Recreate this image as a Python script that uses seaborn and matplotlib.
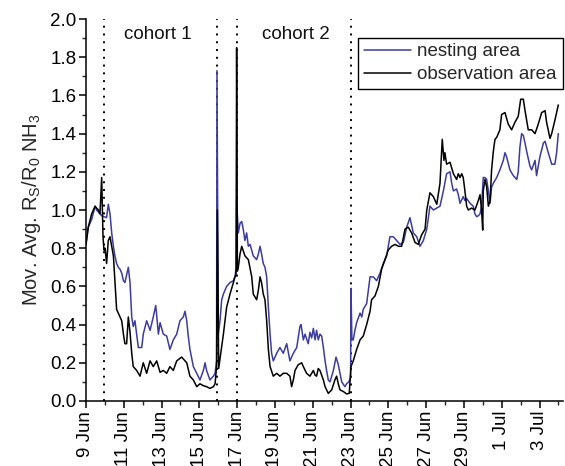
import matplotlib
matplotlib.use("Agg")
import numpy as np
import pandas as pd
import matplotlib.pyplot as plt
import matplotlib.dates as mdates
from matplotlib.ticker import MultipleLocator, FormatStrFormatter
import seaborn as sns

# time axis: days elapsed since 9 Jun 00:00
start_date = "2015-06-09"

nesting_days = [
    0.00, 0.12, 0.30, 0.48, 0.56, 0.74, 0.83, 0.95, 1.09, 1.18, 1.27, 1.36, 1.45, 1.53,
    1.62, 1.71, 1.80, 1.89, 1.98, 2.06, 2.15, 2.24, 2.33, 2.42, 2.50, 2.59, 2.68, 2.77,
    2.95, 3.03, 3.21, 3.39, 3.56, 3.69, 3.74, 3.83, 3.92, 4.09, 4.27, 4.44, 4.62, 4.80,
    4.97, 5.15, 5.24, 5.33, 5.41, 5.50, 5.68, 5.86, 6.03, 6.21, 6.30, 6.38, 6.56, 6.74,
    6.83, 6.91, 6.93, 7.00, 7.09, 7.18, 7.27, 7.44, 7.62, 7.80, 7.88, 7.95, 7.97, 8.06,
    8.15, 8.24, 8.32, 8.41, 8.50, 8.59, 8.68, 8.85, 9.03, 9.12, 9.21, 9.29, 9.38, 9.47,
    9.56, 9.65, 9.74, 9.82, 9.91, 10.09, 10.26, 10.44, 10.62, 10.79, 10.97, 11.15, 11.32,
    11.38, 11.50, 11.59, 11.76, 11.85, 11.94, 12.03, 12.12, 12.20, 12.29, 12.38, 12.47,
    12.56, 12.65, 12.73, 12.82, 12.91, 13.00, 13.09, 13.23, 13.35, 13.44, 13.53, 13.70,
    13.79, 13.90, 14.00, 14.02, 14.07, 14.14, 14.23, 14.32, 14.50, 14.59, 14.67, 14.85,
    15.03, 15.20, 15.38, 15.56, 15.73, 15.91, 16.08, 16.26, 16.44, 16.61, 16.79, 16.97,
    17.14, 17.32, 17.50, 17.67, 17.85, 18.03, 18.20, 18.38, 18.56, 18.73, 18.91, 19.08,
    19.26, 19.35, 19.44, 19.61, 19.70, 19.79, 19.96, 20.05, 20.14, 20.32, 20.49, 20.58,
    20.67, 20.76, 20.85, 20.93, 21.02, 21.11, 21.20, 21.29, 21.38, 21.46, 21.55, 21.73,
    21.90, 22.08, 22.17, 22.25, 22.43, 22.61, 22.79, 22.87, 22.96, 23.05, 23.14, 23.23,
    23.31, 23.49, 23.58, 23.76, 23.84, 24.02, 24.20, 24.29, 24.46, 24.64, 24.81, 24.90,
    24.99,
]
nesting_values = [
    0.82, 0.91, 0.95, 1.02, 1.00, 0.98, 0.97, 0.965, 0.96, 1.03, 0.98, 0.88, 0.81, 0.76,
    0.72, 0.70, 0.69, 0.67, 0.63, 0.62, 0.66, 0.70, 0.62, 0.44, 0.39, 0.42, 0.35, 0.28,
    0.28, 0.35, 0.42, 0.37, 0.44, 0.50, 0.45, 0.35, 0.41, 0.35, 0.34, 0.27, 0.32, 0.35,
    0.42, 0.44, 0.47, 0.42, 0.34, 0.27, 0.18, 0.145, 0.11, 0.16, 0.20, 0.16, 0.11, 0.13,
    0.145, 0.21, 1.73, 0.35, 0.42, 0.53, 0.56, 0.60, 0.62, 0.63, 0.65, 0.70, 1.05, 0.88,
    0.93, 0.94, 0.90, 0.84, 0.88, 0.81, 0.82, 0.76, 0.74, 0.77, 0.81, 0.77, 0.72, 0.70,
    0.65, 0.49, 0.35, 0.25, 0.21, 0.25, 0.28, 0.25, 0.30, 0.21, 0.25, 0.28, 0.39,
    0.40, 0.32, 0.35, 0.30, 0.36, 0.33, 0.38, 0.32, 0.37, 0.32, 0.35, 0.34,
    0.28, 0.21, 0.16, 0.11, 0.10, 0.13, 0.16, 0.23, 0.19, 0.145, 0.10, 0.075,
    0.09, 0.10, 0.12, 0.59, 0.32, 0.32, 0.37, 0.41, 0.46, 0.44, 0.48, 0.51,
    0.65, 0.65, 0.63, 0.67, 0.72, 0.76, 0.86, 0.86, 0.84, 0.82, 0.83, 0.91,
    0.96, 0.88, 0.86, 0.81, 0.84, 0.90, 1.02, 1.00, 1.01, 1.02, 1.10, 1.19,
    1.20, 1.14, 1.10, 1.11, 1.08, 1.035, 1.07, 1.05, 1.06, 1.035, 1.02, 0.98,
    0.965, 0.97, 0.98, 1.02, 1.17, 1.17, 1.16, 1.10, 1.035, 1.12, 1.14, 1.17,
    1.21, 1.26, 1.30, 1.28, 1.21, 1.18, 1.16, 1.20, 1.33, 1.40, 1.39, 1.35,
    1.31, 1.23, 1.21, 1.26, 1.18, 1.28, 1.35, 1.36, 1.30, 1.24, 1.24, 1.30,
    1.40,
]

observation_days = [
    0.00, 0.12, 0.30, 0.48, 0.56, 0.66, 0.74, 0.83, 0.90, 0.95, 1.01, 1.09, 1.18, 1.27,
    1.45, 1.53, 1.62, 1.71, 1.89, 1.98, 2.06, 2.15, 2.24, 2.33, 2.42, 2.50, 2.68, 2.86,
    3.03, 3.21, 3.39, 3.56, 3.74, 3.92, 4.09, 4.27, 4.44, 4.62, 4.80, 5.06, 5.33, 5.50,
    5.68, 5.86, 6.03, 6.21, 6.38, 6.56, 6.74, 6.83, 6.91, 6.95, 7.02, 7.09, 7.27, 7.44,
    7.62, 7.80, 7.88, 7.94, 7.97, 8.01, 8.06, 8.15, 8.24, 8.41, 8.59, 8.77, 8.85, 9.03,
    9.12, 9.21, 9.29, 9.38, 9.47, 9.56, 9.65, 9.74, 9.91, 10.09, 10.26, 10.44, 10.62,
    10.79, 10.88, 10.97, 11.06, 11.23, 11.41, 11.50, 11.67, 11.85, 11.94, 12.03, 12.12,
    12.20, 12.29, 12.38, 12.47, 12.56, 12.65, 12.73, 12.82, 13.00, 13.17, 13.26, 13.35,
    13.44, 13.61, 13.79, 13.93, 14.02, 14.14, 14.32, 14.50, 14.67, 14.85, 15.03, 15.11,
    15.29, 15.47, 15.64, 15.82, 15.99, 16.17, 16.35, 16.53, 16.70, 16.88, 17.05, 17.23,
    17.41, 17.58, 17.76, 17.94, 18.03, 18.20, 18.38, 18.56, 18.73, 18.85, 18.94, 18.99,
    19.08, 19.26, 19.44, 19.61, 19.70, 19.79, 19.88, 19.96, 20.05, 20.14, 20.23, 20.40,
    20.58, 20.76, 20.85, 20.93, 20.99, 21.02, 21.11, 21.20, 21.29, 21.38, 21.46, 21.55,
    21.64, 21.73, 21.90, 21.99, 22.17, 22.34, 22.52, 22.70, 22.87, 23.00, 23.14, 23.23,
    23.40, 23.58, 23.76, 23.93, 24.11, 24.29, 24.37, 24.55, 24.64, 24.81, 24.90, 24.99,
]
observation_values = [
    0.82, 0.91, 0.98, 1.02, 1.01, 1.00, 0.98, 1.17, 0.86, 0.79, 0.80, 0.72, 0.84, 0.86,
    0.76, 0.63, 0.48, 0.46, 0.42, 0.35, 0.30, 0.30, 0.44, 0.36, 0.25, 0.18, 0.16, 0.13,
    0.20, 0.145, 0.21, 0.18, 0.21, 0.15, 0.16, 0.145, 0.18, 0.16, 0.21, 0.23, 0.20, 0.13,
    0.11, 0.075, 0.09, 0.08, 0.075, 0.066, 0.075, 0.09, 0.18, 1.00, 0.17, 0.22, 0.35, 0.49,
    0.56, 0.62, 0.65, 0.66, 1.85, 0.68, 0.70, 0.77, 0.81, 0.76, 0.74, 0.65, 0.56, 0.53,
    0.58, 0.65, 0.62, 0.56, 0.53, 0.42, 0.27, 0.18, 0.13, 0.145, 0.13, 0.145, 0.145,
    0.13, 0.075, 0.11, 0.16, 0.19, 0.20, 0.18, 0.145, 0.13, 0.145, 0.16, 0.135,
    0.13, 0.17, 0.16, 0.135, 0.11, 0.075, 0.058, 0.04, 0.058, 0.11, 0.13, 0.09,
    0.058, 0.05, 0.037, 0.04, 0.18, 0.21, 0.27, 0.32, 0.34, 0.40, 0.47, 0.53,
    0.55, 0.60, 0.69, 0.74, 0.79, 0.81, 0.82, 0.81, 0.81, 0.90, 0.91, 0.88,
    0.83, 0.82, 0.87, 0.90, 1.00, 1.09, 1.07, 1.03, 1.14, 1.37, 1.26, 1.30,
    1.24, 1.25, 1.19, 1.16, 1.19, 1.17, 1.19, 1.17, 1.10, 1.02, 1.00, 1.01,
    1.00, 1.05, 1.08, 1.00, 0.895, 1.10, 1.16, 1.12, 1.02, 1.05, 1.21, 1.305,
    1.37, 1.38, 1.42, 1.50, 1.51, 1.45, 1.42, 1.46, 1.49, 1.58, 1.58, 1.52,
    1.42, 1.42, 1.40, 1.45, 1.51, 1.52, 1.46, 1.375, 1.40, 1.47, 1.51, 1.55,
]

series_labels = ["nesting area", "observation area"]
series_colors = ["#3c3c9c", "#000000"]
cohort_labels = ["cohort 1", "cohort 2"]
cohort_text_days = [3.81, 11.1]
boundary_days = [0.95, 6.93, 7.97, 14.02]

t0 = pd.Timestamp(start_date)


def as_time(days):
    return t0 + pd.to_timedelta(np.asarray(days, dtype=float), unit="D")


df = pd.concat([
    pd.DataFrame({"time": as_time(nesting_days), "value": nesting_values,
                  "area": series_labels[0]}),
    pd.DataFrame({"time": as_time(observation_days), "value": observation_values,
                  "area": series_labels[1]}),
], ignore_index=True)

sns.set_theme(style="ticks")
plt.rcParams["font.family"] = ["Liberation Sans", "DejaVu Sans"]
plt.rcParams["mathtext.fontset"] = "custom"
plt.rcParams["mathtext.rm"] = "Liberation Sans"
plt.rcParams["mathtext.it"] = "Liberation Sans"

TEXT_SIZE = 13.5

fig = plt.figure(figsize=(5.65, 4.66), dpi=100)
ax = fig.add_axes([0.1522, 0.1395, 0.8443, 0.8197])

sns.lineplot(data=df, x="time", y="value", hue="area",
             palette=dict(zip(series_labels, series_colors)),
             estimator=None, sort=False, linewidth=1.1, ax=ax)

for d in boundary_days:
    ax.axvline(as_time([d])[0], color="black", lw=1.4,
               linestyle=(0, (1, 3.0)), zorder=1)

for lbl, d in zip(cohort_labels, cohort_text_days):
    ax.text(as_time([d])[0], 1.92, lbl, ha="center", va="center",
            fontsize=TEXT_SIZE, color="#111111")

ax.set_xlim(as_time([0.0])[0], as_time([25.24])[0])
ax.set_ylim(0.0, 2.0)

ax.xaxis.set_major_locator(mdates.DayLocator(bymonthday=list(range(1, 32, 2))))
ax.xaxis.set_minor_locator(mdates.DayLocator())
ax.xaxis.set_major_formatter(mdates.DateFormatter("%-d %b"))
ax.yaxis.set_major_locator(MultipleLocator(0.2))
ax.yaxis.set_minor_locator(MultipleLocator(0.1))
ax.yaxis.set_major_formatter(FormatStrFormatter("%.1f"))

ax.tick_params(axis="both", which="major", direction="out", length=5, width=1.1,
               labelsize=TEXT_SIZE, colors="black", pad=2)
ax.tick_params(axis="both", which="minor", direction="out", length=3, width=1.0)
plt.setp(ax.get_xticklabels(), rotation=90, ha="center", va="top")

for side in ("top", "right"):
    ax.spines[side].set_visible(False)
for side in ("left", "bottom"):
    ax.spines[side].set_linewidth(1.1)
    ax.spines[side].set_color("black")

ax.set_xlabel("")
ax.set_ylabel(r"Mov. Avg. R$_\mathregular{S}$/R$_\mathregular{0}$ NH$_\mathregular{3}$",
              fontsize=14.5, labelpad=5)

handles, labels = ax.get_legend_handles_labels()
leg = ax.legend(handles, labels, loc="upper right", bbox_to_anchor=(0.999, 0.951),
                frameon=True, fancybox=False, edgecolor="black", framealpha=1,
                fontsize=TEXT_SIZE, handlelength=2.5, handletextpad=0.35,
                labelspacing=0.3, borderpad=0.3, borderaxespad=0.0)
leg.get_frame().set_linewidth(1.0)
for h in leg.get_lines():
    h.set_linewidth(1.1)

fig.savefig("out.png", dpi=100)
